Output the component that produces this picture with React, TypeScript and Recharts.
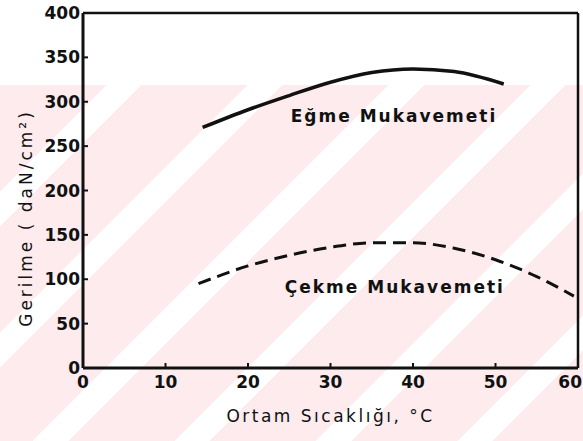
import { LineChart, Line, XAxis, YAxis, ReferenceLine, ReferenceDot, Label } from 'recharts';

// Ortam sıcaklığı (°C) ve gerilme değerleri (daN/cm²)
const egmeTemps = [14.5, 20, 25, 30, 35, 40, 45, 51];
const egmeValues = [271, 291, 307, 322, 333, 337, 334, 320];

const cekmeTemps = [14, 20, 25, 30, 35, 40, 45, 50, 55, 59.5];
const cekmeValues = [95, 115, 127, 136, 141, 141, 135, 122, 103, 81];

const xTicks = [0, 10, 20, 30, 40, 50, 60];
const yTicks = [0, 50, 100, 150, 200, 250, 300, 350, 400];

const egmeData = egmeTemps.map((t, i) => ({ t, v: egmeValues[i] }));
const cekmeData = cekmeTemps.map((t, i) => ({ t, v: cekmeValues[i] }));

const FONT = '"DejaVu Sans", sans-serif';
const tickStyle = { fill: '#111', fontSize: 17, fontWeight: 700, fontFamily: FONT };

// son etiket (60) kenarda kesilmesin diye sağa yaslanır
const XTick = (props: any) => {
  const { x, y, payload } = props;
  const last = payload.value === xTicks[xTicks.length - 1];
  return (
    <text
      x={last ? x + 7 : x}
      y={y}
      dy='0.71em'
      textAnchor={last ? 'end' : 'middle'}
      {...tickStyle}
    >
      {payload.value}
    </text>
  );
};

const YTitle = () => (
  <text
    x={26}
    y={218}
    transform='rotate(-90 26 218)'
    textAnchor='middle'
    dominantBaseline='central'
    fontFamily={FONT}
    fontSize={17}
    letterSpacing={3}
    fill='#111'
  >
    Gerilme ( daN/cm²)
  </text>
);

const noteStyle = {
  position: 'center' as const,
  fill: '#111',
  fontSize: 17,
  fontWeight: 600,
  fontFamily: FONT,
  letterSpacing: 2,
};

export default function App() {
  return (
    <div style={{ position: 'absolute', left: 0, top: 0, width: 583, height: 441, background: '#fff' }}>
      {/* soluk pembe filigran */}
      <div
        style={{
          position: 'absolute',
          left: 0,
          top: 85,
          width: 583,
          height: 356,
          background:
            'repeating-linear-gradient(135deg, #fdebee 0px, #fdebee 75px, #ffffff 75px, #ffffff 100px)',
        }}
      />
      <div style={{ position: 'absolute', left: 0, top: 0 }}>
        <LineChart width={583} height={441} margin={{ top: 13, right: 5, bottom: 43, left: 0 }}>
          <XAxis
            dataKey='t'
            type='number'
            domain={[0, 60]}
            ticks={xTicks}
            allowDataOverflow
            height={30}
            stroke='#111'
            strokeWidth={3}
            tickSize={-5}
            tickMargin={13}
            tick={<XTick />}
            tickLine={{ stroke: '#111', strokeWidth: 2 }}
          >
            <Label
              value='Ortam Sıcaklığı, °C'
              position='bottom'
              offset={12}
              style={{ fill: '#111', fontSize: 17, fontFamily: FONT, letterSpacing: 2.5 }}
            />
          </XAxis>
          <YAxis
            dataKey='v'
            type='number'
            domain={[0, 400]}
            ticks={yTicks}
            width={83}
            stroke='#111'
            strokeWidth={3}
            tickSize={-5}
            tickMargin={8}
            tick={tickStyle}
            tickLine={{ stroke: '#111', strokeWidth: 2 }}
          >
            <Label content={<YTitle />} />
          </YAxis>
          <ReferenceLine y={400} stroke='#111' strokeWidth={2.5} />
          <ReferenceLine x={60} stroke='#111' strokeWidth={2.5} />
          <Line
            data={egmeData}
            dataKey='v'
            type='monotone'
            stroke='#111'
            strokeWidth={3.5}
            dot={false}
            isAnimationActive={false}
          />
          <Line
            data={cekmeData}
            dataKey='v'
            type='monotone'
            stroke='#111'
            strokeWidth={3}
            strokeDasharray='13 7'
            dot={false}
            isAnimationActive={false}
          />
          <ReferenceDot x={37.7} y={284} r={0} stroke='none' label={{ value: 'Eğme Mukavemeti', ...noteStyle }} />
          <ReferenceDot x={37.8} y={91} r={0} stroke='none' label={{ value: 'Çekme Mukavemeti', ...noteStyle }} />
        </LineChart>
      </div>
    </div>
  );
}
